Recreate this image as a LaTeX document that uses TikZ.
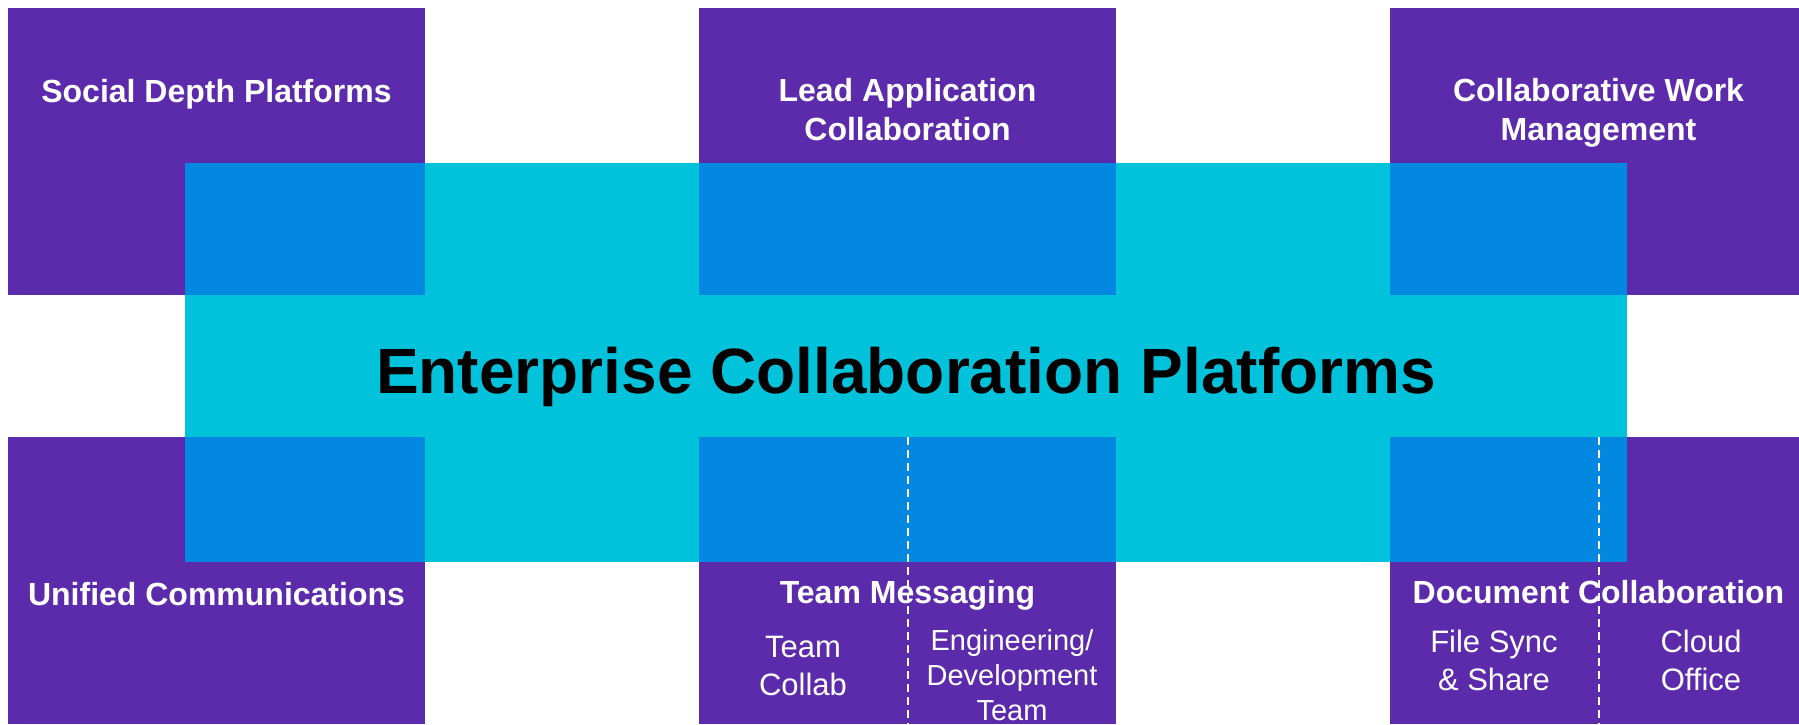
\documentclass[tikz,border=0pt]{standalone}
\usepackage{fontspec}
\setmainfont{Liberation Sans}
\definecolor{boxpurple}{HTML}{5C2BAC}
\definecolor{bandcyan}{HTML}{00C3DB}
\definecolor{overlapblue}{HTML}{0288E0}

\begin{document}
\begin{tikzpicture}[x=1pt, y=-1pt,
  box/.style={fill=boxpurple, minimum width=417pt, minimum height=287pt, inner sep=0pt, outer sep=0pt, anchor=north west},
  head/.style={text=white, font=\fontsize{32}{38.4}\selectfont\bfseries, align=center, anchor=base, inner sep=0pt},
  sub/.style={text=white, font=\fontsize{31}{38}\selectfont, align=center, anchor=base, inner sep=0pt},
  divider/.style={draw=white, line width=2pt, dash pattern=on 8pt off 5pt}]
\clip (0,0) rectangle (1799,724);
\node (sdp) [box] at (8,8) {};
\node (lac) [box] at (699,8) {};
\node (cwm) [box] at (1390,8) {};
\node (ucm) [box] at (8,437) {};
\node (tmg) [box] at (699,437) {};
\node (dcl) [box] at (1390,437) {};
\node (ecp) [fill=bandcyan, minimum width=1442pt, minimum height=399pt, inner sep=0pt, outer sep=0pt, anchor=north west] at (185,163) {};
\fill[overlapblue] (ecp.north west) rectangle (sdp.south east);
\fill[overlapblue] (lac.west |- ecp.north) rectangle (lac.south east);
\fill[overlapblue] (cwm.west |- ecp.north) rectangle (cwm.south -| ecp.east);
\fill[overlapblue] (ecp.west |- ucm.north) rectangle (ucm.east |- ecp.south);
\fill[overlapblue] (tmg.north west) rectangle (tmg.east |- ecp.south);
\fill[overlapblue] (dcl.north west) rectangle (ecp.south east);
\node (title) [font=\fontsize{64}{76}\selectfont\bfseries, anchor=base, inner sep=0pt] at (906,393) {Enterprise Collaboration Platforms};
\node (sdpt) [head] at (216.5,102) {Social Depth Platforms};
\node (lact) [head] at (907.5,140) {Lead Application\\Collaboration};
\node (cwmt) [head] at (1598.5,140) {Collaborative Work\\Management};
\node (ucmt) [head] at (216.5,605) {Unified Communications};
\node (tmgt) [head] at (907.5,603) {Team Messaging};
\node (dclt) [head] at (1598.5,603) {Document Collaboration};
\node (tc) [sub] at (803,695) {Team\\Collab};
\node (edt) [sub, font=\fontsize{29}{35}\selectfont] at (1012,720) {Engineering/\\Development\\Team};
\node (fss) [sub] at (1494,690) {File Sync\\\& Share};
\node (co) [sub] at (1701,690) {Cloud\\Office};
\draw[divider] (tmg.north) -- (tmg.south);
\draw[divider] (dcl.north) -- (dcl.south);
\end{tikzpicture}
\end{document}
